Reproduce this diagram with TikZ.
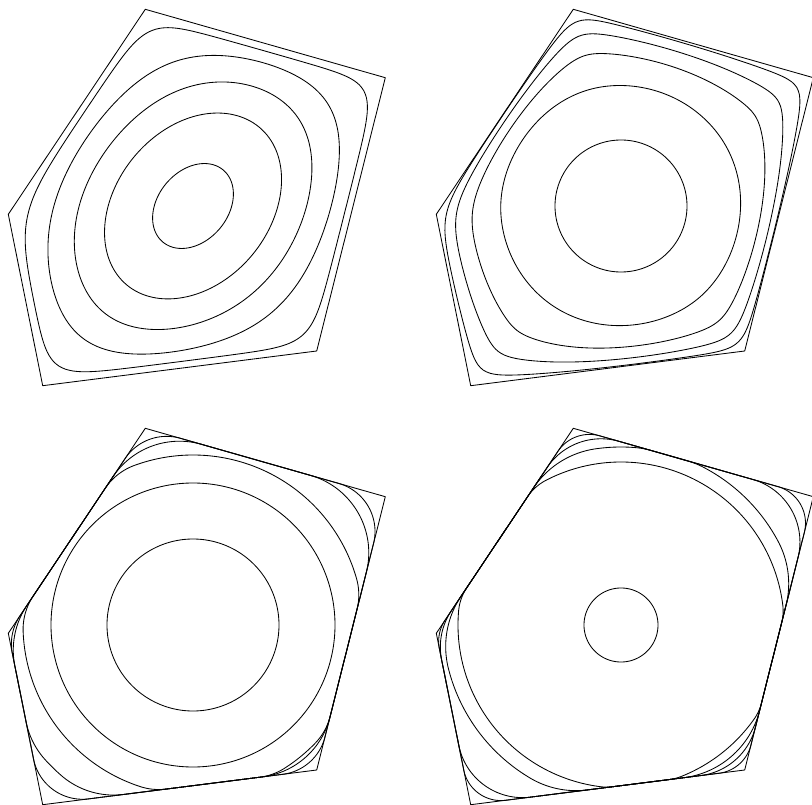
\documentclass[tikz,border=0pt]{standalone}
\ExplSyntaxOn
\fp_new:N \l_rk_cx_fp
\fp_new:N \l_rk_cy_fp
\fp_set:Nn \l_rk_cx_fp {193}
\fp_set:Nn \l_rk_cy_fp {206}
\fp_new:N \l_rk_len_fp
\cs_new_protected:Npn \rk_edge:nnnnn #1#2#3#4#5
 {
  \fp_zero_new:c {l_rk_nx#1_fp}
  \fp_zero_new:c {l_rk_ny#1_fp}
  \fp_zero_new:c {l_rk_h#1_fp}
  \fp_zero_new:c {l_rk_g#1_fp}
  \fp_set:Nn \l_rk_len_fp { sqrt( ((#4)-(#2))^2 + ((#5)-(#3))^2 ) }
  \fp_set:cn {l_rk_nx#1_fp} { ((#5)-(#3)) / \l_rk_len_fp }
  \fp_set:cn {l_rk_ny#1_fp} { ((#2)-(#4)) / \l_rk_len_fp }
  \fp_set:cn {l_rk_h#1_fp}
   { \fp_use:c {l_rk_nx#1_fp} * ((#2) - \l_rk_cx_fp) + \fp_use:c {l_rk_ny#1_fp} * ((#3) - \l_rk_cy_fp) }
 }
\rk_edge:nnnnn {1}{145.3}{9.3}{385.3}{77.7}
\rk_edge:nnnnn {2}{385.3}{77.7}{316.7}{351}
\rk_edge:nnnnn {3}{316.7}{351}{42.7}{385.7}
\rk_edge:nnnnn {4}{42.7}{385.7}{8.3}{214.3}
\rk_edge:nnnnn {5}{8.3}{214.3}{145.3}{9.3}

\fp_new:N \l_rk_ex_fp
\fp_new:N \l_rk_ey_fp
\fp_new:N \l_rk_ka_fp
\fp_new:N \l_rk_kb_fp
\cs_new_protected:Npn \RkEllipse #1#2#3
 {
  \fp_set:Nn \l_rk_ex_fp { cosd(#1) }
  \fp_set:Nn \l_rk_ey_fp { -sind(#1) }
  \fp_set:Nn \l_rk_ka_fp { 1/(#2)^2 }
  \fp_set:Nn \l_rk_kb_fp { 1/(#3)^2 }
 }

\fp_new:N \l_rk_ux_fp
\fp_new:N \l_rk_uy_fp
\fp_new:N \l_rk_S_fp
\fp_new:N \l_rk_P_fp
\fp_new:N \l_rk_E_fp
\fp_new:N \l_rk_r_fp
\tl_new:N \l_rk_path_tl
\cs_new:Npn \rk_term:nn #1#2
 { max(0, (\fp_use:c {l_rk_nx#1_fp} * \l_rk_ux_fp + \fp_use:c {l_rk_ny#1_fp} * \l_rk_uy_fp) / \fp_use:c {l_rk_h#1_fp} )^(#2) }

% radial model: #1 offx, #2 offy, #3 s, #4 beta, #5 p, #6 q
\cs_new_protected:Npn \RkCurve #1#2#3#4#5#6
 {
  \tl_clear:N \l_rk_path_tl
  \int_step_inline:nnn {0} {179}
   {
    \fp_set:Nn \l_rk_ux_fp { cosd(2*##1) }
    \fp_set:Nn \l_rk_uy_fp { sind(2*##1) }
    \fp_set:Nn \l_rk_S_fp { \rk_term:nn{1}{#5} + \rk_term:nn{2}{#5} + \rk_term:nn{3}{#5} + \rk_term:nn{4}{#5} + \rk_term:nn{5}{#5} }
    \fp_set:Nn \l_rk_P_fp { (#4) * \l_rk_S_fp ^ (-1/(#5)) }
    \fp_set:Nn \l_rk_E_fp { (#3) / sqrt( \l_rk_ka_fp * (\l_rk_ux_fp*\l_rk_ex_fp + \l_rk_uy_fp*\l_rk_ey_fp)^2 + \l_rk_kb_fp * (\l_rk_uy_fp*\l_rk_ex_fp - \l_rk_ux_fp*\l_rk_ey_fp)^2 ) }
    \fp_set:Nn \l_rk_r_fp { ( \l_rk_E_fp^(-(#6)) + \l_rk_P_fp^(-(#6)) )^(-1/(#6)) }
    \tl_put_right:Nx \l_rk_path_tl
     { ( \fp_eval:n { round( #1 + \l_rk_cx_fp + \l_rk_r_fp * \l_rk_ux_fp , 2) } ,
         \fp_eval:n { round( #2 + \l_rk_cy_fp + \l_rk_r_fp * \l_rk_uy_fp , 2) } ) ~ }
   }
  \use:e { \exp_not:N \draw [rkline] ~ plot [smooth~cycle] ~ coordinates ~ { \l_rk_path_tl } ; }
 }

% geometric model: disk rho intersected with polygon, opened with fillet radius R
\fp_new:N \l_rk_R_fp
\fp_new:N \l_rk_rp_fp
\seq_new:N \l_rk_cand_seq
\fp_new:N \l_rk_yx_fp
\fp_new:N \l_rk_yy_fp
\fp_new:N \l_rk_det_fp
\bool_new:N \l_rk_ok_bool
\fp_new:N \l_rk_best_fp
\fp_new:N \l_rk_bx_fp
\fp_new:N \l_rk_by_fp
\fp_new:N \l_rk_d_fp
\fp_new:N \l_rk_w_fp

\cs_new_protected:Npn \rk_check_point:
 {
  \bool_set_true:N \l_rk_ok_bool
  \int_step_inline:nn {5}
   {
    \fp_compare:nNnT
     { \fp_use:c {l_rk_nx##1_fp} * \l_rk_yx_fp + \fp_use:c {l_rk_ny##1_fp} * \l_rk_yy_fp }
     > { \fp_use:c {l_rk_g##1_fp} + 0.000001 }
     { \bool_set_false:N \l_rk_ok_bool }
   }
 }
\cs_new_protected:Npn \rk_pair:nn #1#2
 {
  \fp_set:Nn \l_rk_det_fp { \fp_use:c {l_rk_nx#1_fp} * \fp_use:c {l_rk_ny#2_fp} - \fp_use:c {l_rk_ny#1_fp} * \fp_use:c {l_rk_nx#2_fp} }
  \fp_compare:nNnT { abs(\l_rk_det_fp) } > { 0.000001 }
   {
    \fp_set:Nn \l_rk_yx_fp { ( \fp_use:c {l_rk_g#1_fp} * \fp_use:c {l_rk_ny#2_fp} - \fp_use:c {l_rk_g#2_fp} * \fp_use:c {l_rk_ny#1_fp} ) / \l_rk_det_fp }
    \fp_set:Nn \l_rk_yy_fp { ( \fp_use:c {l_rk_nx#1_fp} * \fp_use:c {l_rk_g#2_fp} - \fp_use:c {l_rk_nx#2_fp} * \fp_use:c {l_rk_g#1_fp} ) / \l_rk_det_fp }
    \rk_check_point:
    \fp_compare:nNnT { \l_rk_yx_fp^2 + \l_rk_yy_fp^2 } > { (\l_rk_rp_fp + 0.000001)^2 }
     { \bool_set_false:N \l_rk_ok_bool }
    \bool_if:NT \l_rk_ok_bool
     { \seq_put_right:Nx \l_rk_cand_seq { { \fp_use:N \l_rk_yx_fp } { \fp_use:N \l_rk_yy_fp } } }
   }
 }
\cs_new_protected:Npn \rk_linecirc_aux:nn #1#2
 {
  \fp_set:Nn \l_rk_yx_fp { \fp_use:c {l_rk_g#1_fp} * \fp_use:c {l_rk_nx#1_fp} - (#2) * \l_rk_w_fp * \fp_use:c {l_rk_ny#1_fp} }
  \fp_set:Nn \l_rk_yy_fp { \fp_use:c {l_rk_g#1_fp} * \fp_use:c {l_rk_ny#1_fp} + (#2) * \l_rk_w_fp * \fp_use:c {l_rk_nx#1_fp} }
  \rk_check_point:
  \bool_if:NT \l_rk_ok_bool
   { \seq_put_right:Nx \l_rk_cand_seq { { \fp_use:N \l_rk_yx_fp } { \fp_use:N \l_rk_yy_fp } } }
 }
\cs_new_protected:Npn \rk_linecirc:n #1
 {
  \fp_compare:nNnT { \fp_use:c {l_rk_g#1_fp} } < { \l_rk_rp_fp }
   {
    \fp_set:Nn \l_rk_w_fp { sqrt( \l_rk_rp_fp^2 - (\fp_use:c {l_rk_g#1_fp})^2 ) }
    \rk_linecirc_aux:nn {#1} {1}
    \rk_linecirc_aux:nn {#1} {-1}
   }
 }
\cs_new_protected:Npn \rk_best:nn #1#2
 {
  \fp_set:Nn \l_rk_d_fp { \l_rk_ux_fp * (#1) + \l_rk_uy_fp * (#2) }
  \fp_compare:nNnT { \l_rk_d_fp } > { \l_rk_best_fp }
   {
    \fp_set_eq:NN \l_rk_best_fp \l_rk_d_fp
    \fp_set:Nn \l_rk_bx_fp {#1}
    \fp_set:Nn \l_rk_by_fp {#2}
   }
 }
% #1 offx, #2 offy, #3 rho, #4 R (fillet)
\cs_new_protected:Npn \RkRound #1#2#3#4
 {
  \fp_set:Nn \l_rk_R_fp {#4}
  \fp_set:Nn \l_rk_rp_fp { (#3) - (#4) }
  \int_step_inline:nn {5}
   { \fp_set:cn {l_rk_g##1_fp} { \fp_use:c {l_rk_h##1_fp} - \l_rk_R_fp } }
  \seq_clear:N \l_rk_cand_seq
  \rk_pair:nn {1}{2} \rk_pair:nn {1}{3} \rk_pair:nn {1}{4} \rk_pair:nn {1}{5}
  \rk_pair:nn {2}{3} \rk_pair:nn {2}{4} \rk_pair:nn {2}{5}
  \rk_pair:nn {3}{4} \rk_pair:nn {3}{5} \rk_pair:nn {4}{5}
  \int_step_inline:nn {5} { \rk_linecirc:n {##1} }
  \tl_clear:N \l_rk_path_tl
  \int_step_inline:nnn {0} {359}
   {
    \fp_set:Nn \l_rk_ux_fp { cosd(##1) }
    \fp_set:Nn \l_rk_uy_fp { sind(##1) }
    \fp_set:Nn \l_rk_yx_fp { \l_rk_rp_fp * \l_rk_ux_fp }
    \fp_set:Nn \l_rk_yy_fp { \l_rk_rp_fp * \l_rk_uy_fp }
    \rk_check_point:
    \bool_if:NF \l_rk_ok_bool
     {
      \fp_set:Nn \l_rk_best_fp { -100000 }
      \seq_map_inline:Nn \l_rk_cand_seq { \rk_best:nn ####1 }
      \fp_set_eq:NN \l_rk_yx_fp \l_rk_bx_fp
      \fp_set_eq:NN \l_rk_yy_fp \l_rk_by_fp
     }
    \tl_put_right:Nx \l_rk_path_tl
     { ( \fp_eval:n { round( #1 + \l_rk_cx_fp + \l_rk_yx_fp + \l_rk_R_fp * \l_rk_ux_fp , 2) } ,
         \fp_eval:n { round( #2 + \l_rk_cy_fp + \l_rk_yy_fp + \l_rk_R_fp * \l_rk_uy_fp , 2) } ) ~ }
   }
  \use:e { \exp_not:N \draw [rkline] ~ plot ~ coordinates ~ { \l_rk_path_tl } ~ -- ~ cycle ; }
 }
\ExplSyntaxOff

\tikzset{rkline/.style={draw=black, line width=0.85pt, line join=round}}
\newcommand\RkPoly[2]{%
  \draw[rkline, shift={(#1,#2)}] (145.3,9.3) -- (385.3,77.7) -- (316.7,351) -- (42.7,385.7) -- (8.3,214.3) -- cycle;}

\begin{document}
\begin{tikzpicture}[x=1pt, y=-1pt]
\useasboundingbox (0,0) rectangle (812,805);
% panel 1
\RkPoly{0}{0}
\RkEllipse{50}{47}{35}
\RkCurve{0}{0}{1}{1}{4}{8}
\RkCurve{0}{0}{2.2}{1}{4}{6}
\RkCurve{0}{0}{3.0}{1}{6}{6}
\RkCurve{0}{0}{3.9}{1}{6}{6}
\RkCurve{0}{0}{8}{0.96}{10}{6}
% panel 2
\RkEllipse{0}{1}{1}
\RkPoly{428}{0}
\RkCurve{428}{0}{66}{1}{12}{16}
\RkCurve{428}{0}{121}{1.01}{16}{8}
\RkCurve{428}{0}{175}{1.01}{16}{4}
\RkCurve{428}{0}{226}{1.01}{16}{4}
\RkCurve{428}{0}{320}{1.01}{16}{4}
% panel 3
\RkPoly{0}{419}
\RkRound{0}{419}{86}{86}
\RkRound{0}{419}{142}{142}
\RkRound{0}{419}{170}{60}
\RkRound{0}{419}{200}{80}
\RkRound{0}{419}{250}{50}
% panel 4
\RkPoly{428}{419}
\RkRound{428}{419}{37}{37}
\RkRound{428}{419}{163}{50}
\RkRound{428}{419}{178}{90}
\RkRound{428}{419}{240}{65}
\RkRound{428}{419}{300}{38}
\end{tikzpicture}
\end{document}
